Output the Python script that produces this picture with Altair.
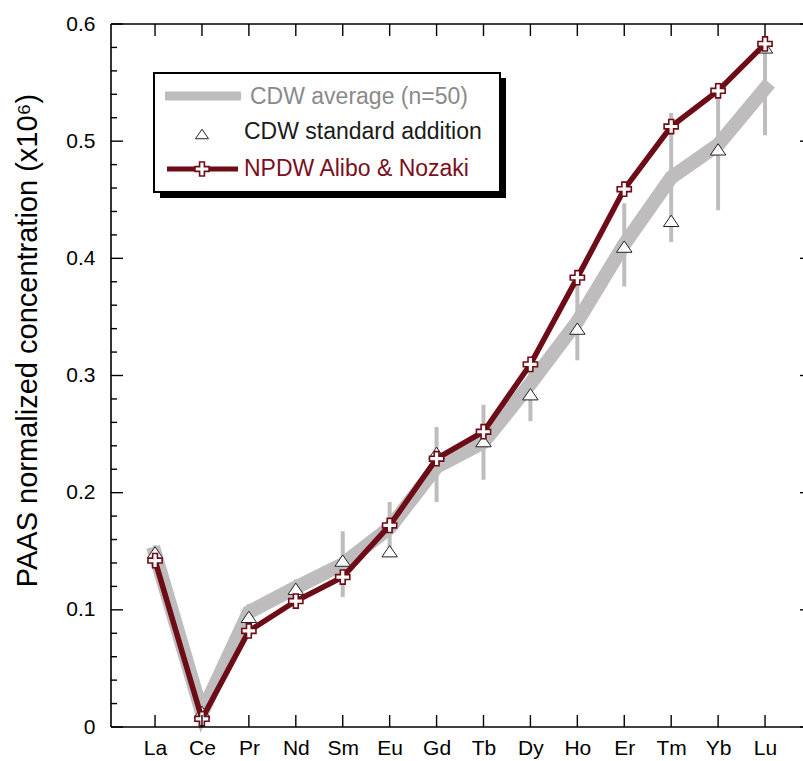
import altair as alt
import pandas as pd

ELEMENTS = ["La", "Ce", "Pr", "Nd", "Sm", "Eu", "Gd", "Tb", "Dy", "Ho", "Er", "Tm", "Yb", "Lu"]
CDW_AVG = [0.148, 0.012, 0.098, 0.119, 0.139, 0.170, 0.222, 0.243, 0.293, 0.346, 0.412, 0.469, 0.497, 0.545]
CDW_LOW = [0.141, 0.008, 0.091, 0.112, 0.111, 0.148, 0.192, 0.211, 0.261, 0.313, 0.376, 0.414, 0.441, 0.505]
CDW_HIGH = [0.155, 0.016, 0.105, 0.126, 0.167, 0.192, 0.256, 0.275, 0.314, 0.380, 0.447, 0.524, 0.550, 0.582]
CDW_STD_ADD = [0.149, 0.013, 0.094, 0.118, 0.142, 0.150, 0.234, 0.244, 0.284, 0.340, 0.410, 0.432, 0.493, 0.580]
NPDW = [0.142, 0.007, 0.082, 0.1075, 0.128, 0.172, 0.229, 0.252, 0.3095, 0.3835, 0.459, 0.5125, 0.543, 0.583]

Y_MAJOR = [0, 0.1, 0.2, 0.3, 0.4, 0.5, 0.6]
Y_MINOR = [0.02, 0.04, 0.06, 0.08, 0.12, 0.14, 0.16, 0.18, 0.22, 0.24, 0.26, 0.28,
           0.32, 0.34, 0.36, 0.38, 0.42, 0.44, 0.46, 0.48, 0.52, 0.54, 0.56, 0.58]

LEG_AVG = "CDW average (n=50)"
LEG_STD = "CDW standard addition"
LEG_NPDW = "NPDW Alibo & Nozaki"
Y_TITLE = "PAAS normalized concentration (x10\u2076)"

W, H = 692, 703
GRAY = "#bebcbc"
RED = "#6d0c17"
FONT = "Liberation Sans"
TRI = "M0,-0.73L1,0.73L-1,0.73Z"
CROSS = ("M-0.34,-1L0.34,-1L0.34,-0.34L1,-0.34L1,0.34L0.34,0.34L0.34,1L-0.34,1"
         "L-0.34,0.34L-1,0.34L-1,-0.34L-0.34,-0.34Z")

df = pd.DataFrame({"el": ELEMENTS, "avg": CDW_AVG, "lo": CDW_LOW, "hi": CDW_HIGH,
                   "std": CDW_STD_ADD, "npdw": NPDW})
dmaj = pd.DataFrame({"v": Y_MAJOR})
dmin = pd.DataFrame({"v": Y_MINOR})
del_ = pd.DataFrame({"el": ELEMENTS})
one = pd.DataFrame({"k": [0]})

xs = alt.Scale(type="point", domain=ELEMENTS, padding=0.874, align=0.537)
ys = alt.Scale(domain=[0, 0.6], nice=False, zero=False)

X = alt.X("el:N", scale=xs, sort=ELEMENTS,
          axis=alt.Axis(title=None, ticks=False, tickSize=0, domain=False, labelAngle=0,
                        labelFont=FONT, labelFontSize=21, labelColor="#000",
                        labelPadding=10, grid=False))
Yaxis = alt.Axis(values=Y_MAJOR, format="~g", ticks=False, tickSize=0, domain=False, grid=False,
                 labelFont=FONT, labelFontSize=21, labelColor="#000", labelPadding=16,
                 title=Y_TITLE, titleFont=FONT, titleFontSize=29, titleFontWeight="normal",
                 titleColor="#000", titleAngle=270, titleX=-84, titleY=316,
                 titleAlign="center", titleBaseline="middle")

err = alt.Chart(df).mark_rule(color=GRAY, strokeWidth=4).encode(
    x=X, y=alt.Y("lo:Q", scale=ys, axis=Yaxis), y2="hi:Q")
avg = alt.Chart(df).mark_line(color=GRAY, strokeWidth=14, strokeCap="square",
                              strokeJoin="miter").encode(
    x=alt.X("el:N", scale=xs, sort=ELEMENTS), y=alt.Y("avg:Q", scale=ys))
tri = alt.Chart(df).mark_point(shape=TRI, size=240, filled=True, fill="white",
                               stroke="#222", strokeWidth=1, opacity=1).encode(
    x=alt.X("el:N", scale=xs, sort=ELEMENTS), y=alt.Y("std:Q", scale=ys))
npl = alt.Chart(df).mark_line(color=RED, strokeWidth=5.5, strokeJoin="miter").encode(
    x=alt.X("el:N", scale=xs, sort=ELEMENTS), y=alt.Y("npdw:Q", scale=ys))
crs = alt.Chart(df).mark_point(shape=CROSS, size=200, filled=True, fill="white",
                               stroke=RED, strokeWidth=1.6, opacity=1).encode(
    x=alt.X("el:N", scale=xs, sort=ELEMENTS), y=alt.Y("npdw:Q", scale=ys))

# frame
frame_l = alt.Chart(one).mark_rule(color="#000", strokeWidth=1.6).encode(
    x=alt.value(0), y=alt.value(0), y2=alt.value(H))
frame_t = alt.Chart(one).mark_rule(color="#000", strokeWidth=1.6).encode(
    x=alt.value(0), x2=alt.value(W), y=alt.value(0))
frame_b = alt.Chart(one).mark_rule(color="#000", strokeWidth=1.6).encode(
    x=alt.value(0), x2=alt.value(W), y=alt.value(H))
# ticks
t_bot = alt.Chart(del_).mark_rule(color="#000", strokeWidth=1.4).encode(
    x=alt.X("el:N", scale=xs, sort=ELEMENTS), y=alt.value(H), y2=alt.value(H - 12))
t_top = alt.Chart(del_).mark_rule(color="#000", strokeWidth=1.4).encode(
    x=alt.X("el:N", scale=xs, sort=ELEMENTS), y=alt.value(0), y2=alt.value(12))
t_lmaj = alt.Chart(dmaj).mark_rule(color="#000", strokeWidth=1.4).encode(
    y=alt.Y("v:Q", scale=ys), x=alt.value(0), x2=alt.value(12))
t_lmin = alt.Chart(dmin).mark_rule(color="#000", strokeWidth=1.4).encode(
    y=alt.Y("v:Q", scale=ys), x=alt.value(0), x2=alt.value(6))
t_r = alt.Chart(dmaj).mark_rule(color="#000", strokeWidth=1.4).encode(
    y=alt.Y("v:Q", scale=ys), x=alt.value(W - 3), x2=alt.value(W))

# legend box
shadow = alt.Chart(one).mark_rect(color="#000").encode(
    x=alt.value(49), x2=alt.value(395), y=alt.value(54), y2=alt.value(174))
box = alt.Chart(one).mark_rect(fill="white", stroke="#000", strokeWidth=2).encode(
    x=alt.value(43), x2=alt.value(389), y=alt.value(49), y2=alt.value(168))
l_avg = alt.Chart(one).mark_rule(color=GRAY, strokeWidth=9).encode(
    x=alt.value(54), x2=alt.value(130), y=alt.value(72))
t_avg = alt.Chart(one).mark_text(text=LEG_AVG, font=FONT, fontSize=23, fontWeight=400,
                                 color="#8a8a8a", align="left", baseline="middle").encode(
    x=alt.value(139), y=alt.value(73))
l_tri = alt.Chart(one).mark_point(shape=TRI, size=170, filled=True, fill="white",
                                  stroke="#222", strokeWidth=1, opacity=1).encode(
    x=alt.value(91), y=alt.value(110))
t_std = alt.Chart(one).mark_text(text=LEG_STD, font=FONT, fontSize=23, fontWeight=400,
                                 color="#1a1a1a", align="left", baseline="middle").encode(
    x=alt.value(133), y=alt.value(108))
l_red = alt.Chart(one).mark_rule(color=RED, strokeWidth=5).encode(
    x=alt.value(56), x2=alt.value(127), y=alt.value(145))
l_crs = alt.Chart(one).mark_point(shape=CROSS, size=200, filled=True, fill="white",
                                  stroke=RED, strokeWidth=1.6, opacity=1).encode(
    x=alt.value(91), y=alt.value(145))
t_np = alt.Chart(one).mark_text(text=LEG_NPDW, font=FONT, fontSize=23, fontWeight=400,
                                color="#7a0f1d", align="left", baseline="middle").encode(
    x=alt.value(133), y=alt.value(145))

chart = alt.layer(
    err, avg, tri, npl, crs,
    frame_l, frame_t, frame_b, t_bot, t_top, t_lmaj, t_lmin, t_r,
    shadow, box, l_avg, t_avg, l_tri, t_std, l_red, l_crs, t_np,
).properties(
    width=W, height=H,
    autosize=alt.AutoSizeParams(type="none"),
    padding={"left": 111, "top": 24, "right": 0, "bottom": 34},
    background="white",
).configure_view(stroke=None)

chart.save("out.html", embed_options={"renderer": "svg", "actions": False})
